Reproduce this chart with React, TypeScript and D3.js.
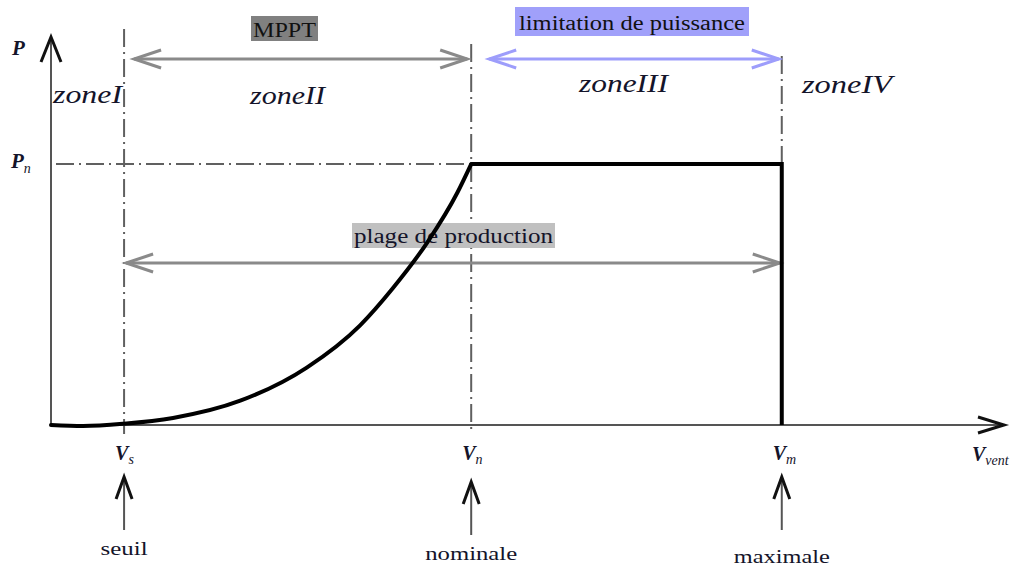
import React from "react";
import * as d3 from "d3";

// Wind speed (arbitrary units) and power (per-unit of Pn)
const curveSpeeds = [0, 0.44, 1.0, 1.67, 2.59, 3.5, 4.23, 4.68, 5.15, 5.56, 5.75];
const curvePowers = [0, -0.004, 0.005, 0.027, 0.093, 0.22, 0.382, 0.525, 0.7, 0.89, 1.0];
const plateauSpeeds = [5.75, 10, 10];
const plateauPowers = [1.0, 1.0, 0];

const markerSpeeds = [1, 5.75, 10];
const markerSubs = ["s", "n", "m"];
const markerNames = ["seuil", "nominale", "maximale"];
const zoneLabels = ["zoneI", "zoneII", "zoneIII", "zoneIV"];
const rangeLabels = ["MPPT", "limitation de puissance", "plage de production"];

const W = 1021;
const H = 570;

export default function App() {
  const x = d3.scaleLinear().domain([0, 13]).range([51, 1001]);
  const y = d3.scaleLinear().domain([0, 1]).range([425, 164]);
  const vs = markerSpeeds[0];
  const vn = markerSpeeds[1];
  const vm = markerSpeeds[2];

  const curvePts: [number, number][] = curveSpeeds.map((v, i) => [v, curvePowers[i]]);
  const platPts: [number, number][] = plateauSpeeds.map((v, i) => [v, plateauPowers[i]]);
  const curveLine = d3
    .line<[number, number]>()
    .x((d) => x(d[0]))
    .y((d) => y(d[1]))
    .curve(d3.curveMonotoneX);
  const linLine = d3
    .line<[number, number]>()
    .x((d) => x(d[0]))
    .y((d) => y(d[1]));

  const serif =
    "'Times New Roman', Tinos, 'Liberation Serif', 'Noto Serif', 'DejaVu Serif', Times, serif";
  const dash = "18 5 2 5";
  const dashColor = "#606060";
  const axisColor = "#555";
  const textColor = "#14142a";

  const chevronRight = (tx: number, ty: number, dx: number, dy: number) =>
    `M${tx - dx},${ty - dy} L${tx},${ty} L${tx - dx},${ty + dy}`;
  const chevronLeft = (tx: number, ty: number, dx: number, dy: number) =>
    `M${tx + dx},${ty - dy} L${tx},${ty} L${tx + dx},${ty + dy}`;
  const chevronUp = (tx: number, ty: number, dx: number, dy: number) =>
    `M${tx - dx},${ty + dy} L${tx},${ty} L${tx + dx},${ty + dy}`;

  const x0 = x(0);
  const y0 = y(0);
  const xEnd = 1004;
  const yTop = 37;

  const mpptY = 59;
  const limY = 59;
  const plageY = 263;

  return (
    <svg
      width={W}
      height={H}
      viewBox={`0 0 ${W} ${H}`}
      style={{ position: "absolute", left: 0, top: 0, background: "#fff" }}
    >
      <rect x={0} y={0} width={W} height={H} fill="#fff" />

      {/* vertical dash-dot guides */}
      <line x1={x(vs)} x2={x(vs)} y1={29} y2={434} stroke={dashColor} strokeWidth={2} strokeDasharray={dash} />
      <line x1={x(vn)} x2={x(vn)} y1={44} y2={433} stroke={dashColor} strokeWidth={2} strokeDasharray={dash} />
      <line x1={x(vm)} x2={x(vm)} y1={56} y2={y(1)} stroke={dashColor} strokeWidth={2} strokeDasharray={dash} />
      {/* horizontal Pn guide */}
      <line x1={56} x2={x(vn)} y1={y(1)} y2={y(1)} stroke={dashColor} strokeWidth={2} strokeDasharray={dash} />

      {/* axes */}
      <line x1={x0} x2={x0} y1={y0} y2={yTop + 2} stroke={axisColor} strokeWidth={2} />
      <path d={chevronUp(x0, yTop, 10, 25)} fill="none" stroke="#111" strokeWidth={3} />
      <line x1={x0} x2={xEnd - 2} y1={y0} y2={y0} stroke={axisColor} strokeWidth={2} />
      <path d={chevronRight(xEnd, y0, 26, 8)} fill="none" stroke="#111" strokeWidth={3} />

      {/* MPPT range */}
      <rect x={251} y={16} width={67} height={25} fill="#808080" />
      <text x={284.5} y={37} textAnchor="middle" fontFamily={serif} fontSize={21} fill="#111" textLength={63} lengthAdjust="spacingAndGlyphs">
        {rangeLabels[0]}
      </text>
      <line x1={x(vs) + 10} x2={x(vn) - 4} y1={mpptY} y2={mpptY} stroke="#8a8a8a" strokeWidth={3} />
      <path d={chevronLeft(x(vs) + 10, mpptY, 27, 9)} fill="none" stroke="#8a8a8a" strokeWidth={3} />
      <path d={chevronRight(x(vn) - 4, mpptY, 27, 9)} fill="none" stroke="#8a8a8a" strokeWidth={3} />

      {/* limitation de puissance range */}
      <rect x={515} y={7} width={234} height={29} fill="#a0a0fa" />
      <text x={632} y={30} textAnchor="middle" fontFamily={serif} fontSize={20} fill="#111" textLength={226} lengthAdjust="spacingAndGlyphs">
        {rangeLabels[1]}
      </text>
      <line x1={x(vn) + 18} x2={x(vm) - 3} y1={limY} y2={limY} stroke="#9d9dfb" strokeWidth={3} />
      <path d={chevronLeft(x(vn) + 18, limY, 27, 9)} fill="none" stroke="#9d9dfb" strokeWidth={3} />
      <path d={chevronRight(x(vm) - 3, limY, 27, 9)} fill="none" stroke="#9d9dfb" strokeWidth={3} />

      {/* plage de production */}
      <rect x={352} y={223} width={203} height={25} fill="#c0c0c0" />
      <text x={453.5} y={243} textAnchor="middle" fontFamily={serif} fontSize={20} fill={textColor} textLength={199} lengthAdjust="spacingAndGlyphs">
        {rangeLabels[2]}
      </text>
      <line x1={x(vs) + 2} x2={x(vm) - 2} y1={plageY} y2={plageY} stroke="#8a8a8a" strokeWidth={3} />
      <path d={chevronLeft(x(vs) + 2, plageY, 27, 9)} fill="none" stroke="#8a8a8a" strokeWidth={3} />
      <path d={chevronRight(x(vm) - 2, plageY, 27, 9)} fill="none" stroke="#8a8a8a" strokeWidth={3} />

      {/* zone labels */}
      <text x={53} y={103} fontFamily={serif} fontStyle="italic" fontSize={26} fill={textColor} textLength={69} lengthAdjust="spacingAndGlyphs">
        {zoneLabels[0]}
      </text>
      <text x={250} y={104} fontFamily={serif} fontStyle="italic" fontSize={26} fill={textColor} textLength={75} lengthAdjust="spacingAndGlyphs">
        {zoneLabels[1]}
      </text>
      <text x={579} y={92} fontFamily={serif} fontStyle="italic" fontSize={26} fill={textColor} textLength={89} lengthAdjust="spacingAndGlyphs">
        {zoneLabels[2]}
      </text>
      <text x={802} y={93} fontFamily={serif} fontStyle="italic" fontSize={26} fill={textColor} textLength={90} lengthAdjust="spacingAndGlyphs">
        {zoneLabels[3]}
      </text>

      {/* power curve */}
      <path d={curveLine(curvePts) || ""} fill="none" stroke="#000" strokeWidth={4} strokeLinecap="round" />
      <path d={linLine(platPts) || ""} fill="none" stroke="#000" strokeWidth={4} strokeLinejoin="miter" />

      {/* y-axis labels */}
      <text x={12} y={55} fontFamily={serif} fontStyle="italic" fontWeight="bold" fontSize={21} fill={textColor}>
        P
      </text>
      <text x={11} y={168} fontFamily={serif} fontStyle="italic" fontWeight="bold" fontSize={21} fill={textColor}>
        P
        <tspan fontSize={14} dy={5} fontWeight="normal">n</tspan>
      </text>

      {/* x-axis marker labels and arrows */}
      {markerSpeeds.map((v, i) => {
        const cx = x(v);
        const tip = i === 1 ? 482 : 477;
        const bottom = i === 1 ? 535 : 530;
        const nameY = [555, 560, 563][i];
        const nameW = [47, 92, 96][i];
        return (
          <g key={markerNames[i]}>
            <text x={cx - 9} y={460} fontFamily={serif} fontStyle="italic" fontWeight="bold" fontSize={20} fill={textColor}>
              V
              <tspan fontSize={14} dy={4} fontWeight="normal">{markerSubs[i]}</tspan>
            </text>
            <line x1={cx} x2={cx} y1={bottom} y2={tip + 2} stroke={axisColor} strokeWidth={2} />
            <path d={chevronUp(cx, tip, 8, 22)} fill="none" stroke="#111" strokeWidth={3} />
            <text x={cx} y={nameY} textAnchor="middle" fontFamily={serif} fontSize={19} fill={textColor} textLength={nameW} lengthAdjust="spacingAndGlyphs">
              {markerNames[i]}
            </text>
          </g>
        );
      })}
      <text x={972} y={461} fontFamily={serif} fontStyle="italic" fontWeight="bold" fontSize={20} fill={textColor}>
        V
        <tspan fontSize={14} dy={4} fontWeight="normal">vent</tspan>
      </text>
    </svg>
  );
}
